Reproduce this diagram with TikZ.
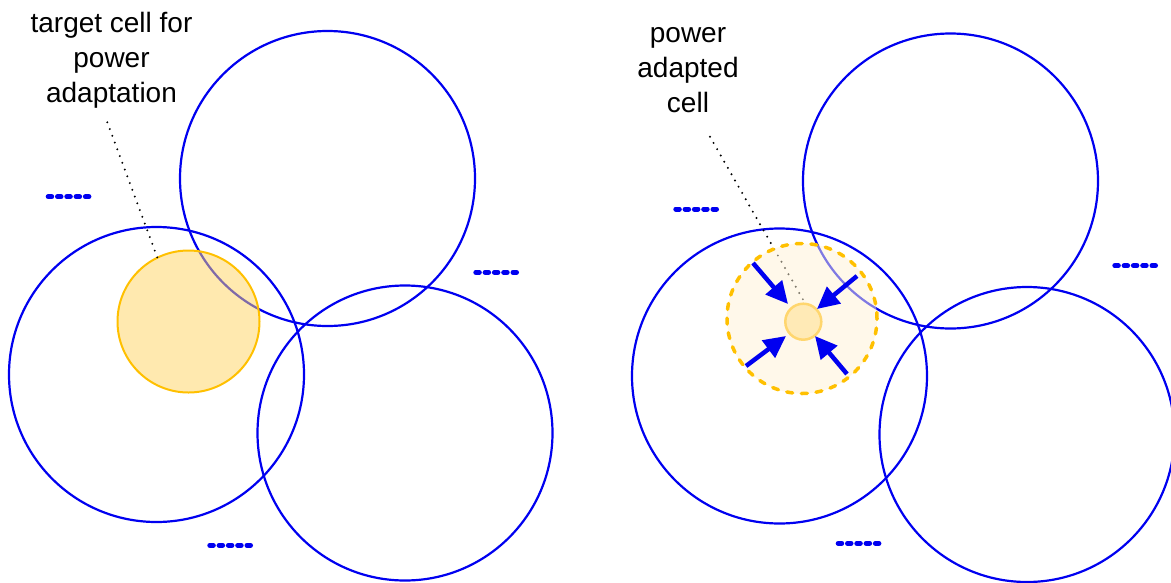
\documentclass[tikz,border=0pt]{standalone}
\usepackage{fontspec}
\setmainfont{Liberation Sans}
\usetikzlibrary{arrows.meta}
\definecolor{cellblue}{RGB}{0,0,240}
\definecolor{gold}{RGB}{255,192,0}
\definecolor{goldfill}{RGB}{255,213,97}
\definecolor{palefill}{RGB}{255,243,215}
\definecolor{smallfill}{RGB}{255,234,182}
\definecolor{smallring}{RGB}{255,214,110}
\begin{document}
\begin{tikzpicture}[x=1pt,y=-1pt,
  cell/.style={circle, draw=cellblue, line width=2.2pt, minimum size=295pt, inner sep=0pt, outer sep=0pt},
  marker/.style={cellblue, line width=5pt, line cap=round, dash pattern=on 3.5pt off 5.8pt},
  leader/.style={black, line width=2.2pt, line cap=round, dash pattern=on 0pt off 7.2pt},
  lbl/.style={font=\fontsize{28}{35}\selectfont, align=center, inner sep=0pt},
  shrink/.style={cellblue, line width=4.5pt, -{Triangle[length=22pt,width=21pt]}},
]
\useasboundingbox (0,0) rectangle (1171,582);
\fill[white] (0,0) rectangle (1171,582);

% ---------- left panel ----------
\node[cell] (A1) at (327.5,178.5) {};
\node[cell] (A2) at (156.5,374.5) {};
\node[cell] (A3) at (405,433) {};
\draw[marker] (48.2,196.7) -- (88.9,196.7);
\draw[marker] (475.8,272.3) -- (516.5,272.3);
\draw[marker] (209.8,545.3) -- (250.5,545.3);
\node[circle, minimum size=142pt, inner sep=0pt, outer sep=0pt, fill=goldfill, fill opacity=0.5,
      draw=gold, draw opacity=1, line width=2pt] (T) at (188.5,321.5) {};
\node[lbl, anchor=north] (t1) at (111.5,12.5) {target cell for\\power\\adaptation};
\coordinate (l1) at (107.3,122.3);
\draw[leader] (l1) -- (T.116);

% ---------- right panel ----------
\node[cell] (B1) at (950.5,181) {};
\node[cell] (B2) at (779.5,376) {};
\node[cell] (B3) at (1027,434.5) {};
\draw[marker] (675.8,209) -- (716.5,209);
\draw[marker] (1114.8,265.7) -- (1155.5,265.7);
\draw[marker] (838.2,543.3) -- (878.9,543.3);
\node[lbl, anchor=north] (t2) at (688,27.5) {power\\adapted\\cell};
\coordinate (l2) at (710,136.7);
\node[circle, minimum size=36pt, inner sep=0pt, outer sep=0pt] (S) at (803.3,321.7) {};
\draw[leader] (l2) -- (S.83);
\node[circle, minimum size=150pt, inner sep=0pt, outer sep=0pt, fill=palefill, fill opacity=0.5,
      draw=gold, draw opacity=1, line width=3.5pt, line cap=round, dash pattern=on 6pt off 8.7pt] (P) at (802,318.5) {};
\node[circle, minimum size=36pt, inner sep=0pt, outer sep=0pt, fill=smallfill,
      draw=smallring, line width=2.5pt] at (S) {};
\coordinate (a1) at (753,263);  \coordinate (b1) at (788,304);
\coordinate (a2) at (857,276);  \coordinate (b2) at (817,309);
\coordinate (a3) at (746,366);  \coordinate (b3) at (786,336);
\coordinate (a4) at (847,374);  \coordinate (b4) at (815,336);
\draw[shrink] (a1) -- (b1);
\draw[shrink] (a2) -- (b2);
\draw[shrink] (a3) -- (b3);
\draw[shrink] (a4) -- (b4);
\end{tikzpicture}
\end{document}
